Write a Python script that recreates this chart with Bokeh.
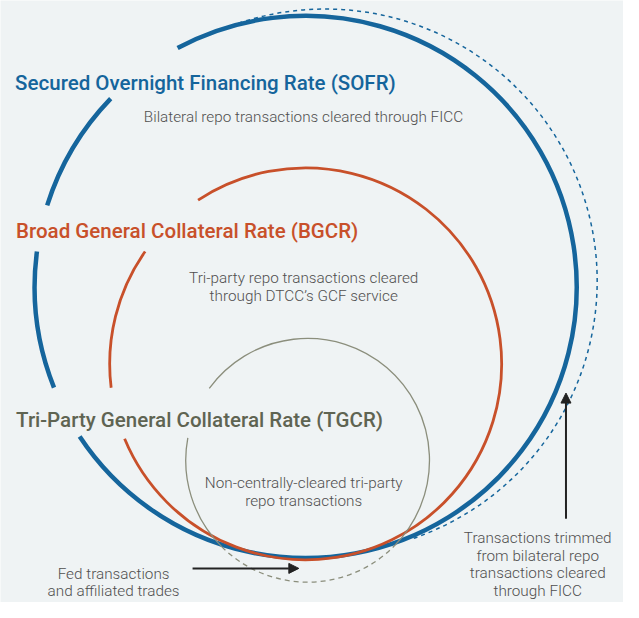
import numpy as np
from bokeh.plotting import figure
from bokeh.models import Arrow, NormalHead, ColumnDataSource
from bokeh.core.properties import value
from bokeh.embed import file_html
from bokeh.resources import INLINE

BG = "#EFF3F4"
BLUE = "#15659C"
RED = "#C8502A"
GRAY = "#8B8E7C"
TGCR_COL = "#5F6452"
TXT = "#4F4F4F"

# circles (x, y in reference-pixel units, y up), radius
sofr_center = (313, 324); sofr_r = 278
trim_center = (333, 330); trim_r = 279
bgcr_center = (313, 245); bgcr_r = 201
tgcr_center = (315, 146); tgcr_r = 125

# arc spans in degrees
sofr_starts = [136, 172.5, 213.5]
sofr_ends = [162.5, 201.8, 478.2]
trim_starts = [-71]
trim_ends = [115]
bgcr_starts = [145, 202.5]
bgcr_ends = [187, 483.3]
tgcr_starts = [169.4, 315.3]
tgcr_ends = [225.3, 503.8]
tgcr_dash_starts = [225.3]
tgcr_dash_ends = [315.3]

labels = ["Secured Overnight Financing Rate (SOFR)",
          "Broad General Collateral Rate (BGCR)",
          "Tri-Party General Collateral Rate (TGCR)"]
label_x = [15, 16, 16]
label_y = [533, 381, 187]
label_colors = [BLUE, RED, TGCR_COL]

notes = ["Bilateral repo transactions cleared through FICC",
         "Tri-party repo transactions cleared", "through DTCC\u2019s GCF service",
         "Non-centrally-cleared tri-party", "repo transactions",
         "Fed transactions", "and affiliated trades",
         "Transactions trimmed", "from bilateral repo", "transactions cleared", "through FICC"]
note_x = [147, 311, 311, 311, 311, 116, 116, 551, 551, 551, 551]
note_y = [498, 333, 315, 123, 104, 29, 12, 66, 48, 30, 12]
note_align = ["left"] + ["center"] * 10

p = figure(width=623, height=602, x_range=(0, 639), y_range=(0, 618),
           output_backend="svg", toolbar_location=None,
           background_fill_color=BG, border_fill_color=BG, min_border=0)
p.axis.visible = False
p.grid.visible = False
p.outline_line_color = None


def arcs(center, r, starts, ends, color, width, dash="solid"):
    n = len(starts)
    p.arc(x=[center[0]] * n, y=[center[1]] * n, radius=r,
          start_angle=starts, end_angle=ends, start_angle_units="deg",
          end_angle_units="deg", direction="anticlock",
          line_color=color, line_width=width, line_dash=dash)


arcs(trim_center, trim_r, trim_starts, trim_ends, BLUE, 1.5, "4 4")
arcs(sofr_center, sofr_r, sofr_starts, sofr_ends, BLUE, 4.5)
arcs(bgcr_center, bgcr_r, bgcr_starts, bgcr_ends, RED, 2.8)
arcs(tgcr_center, tgcr_r, tgcr_starts, tgcr_ends, GRAY, 1.3)
arcs(tgcr_center, tgcr_r, tgcr_dash_starts, tgcr_dash_ends, GRAY, 1.3, "5 4")

p.text(x=label_x, y=label_y, text=labels, text_color=label_colors,
       text_font=value("'Roboto Medium', Roboto"), text_font_style="normal",
       text_font_size="20.5px", text_baseline="alphabetic", text_align="left")

src = ColumnDataSource(dict(x=note_x, y=note_y, text=notes, align=note_align))
p.text(x="x", y="y", text="text", source=src, text_align="align",
       text_color=TXT, text_font=value("'Roboto Light', Roboto"), text_font_size="15.3px",
       text_baseline="alphabetic")

p.add_layout(Arrow(end=NormalHead(size=10, fill_color="#222222", line_color="#222222"),
                   x_start=197, y_start=35, x_end=306, y_end=35,
                   line_color="#222222", line_width=2))
p.add_layout(Arrow(end=NormalHead(size=10, fill_color="#222222", line_color="#222222"),
                   x_start=580, y_start=86, x_end=580, y_end=215,
                   line_color="#222222", line_width=2))

open("out.html", "w").write(file_html(p, INLINE))
